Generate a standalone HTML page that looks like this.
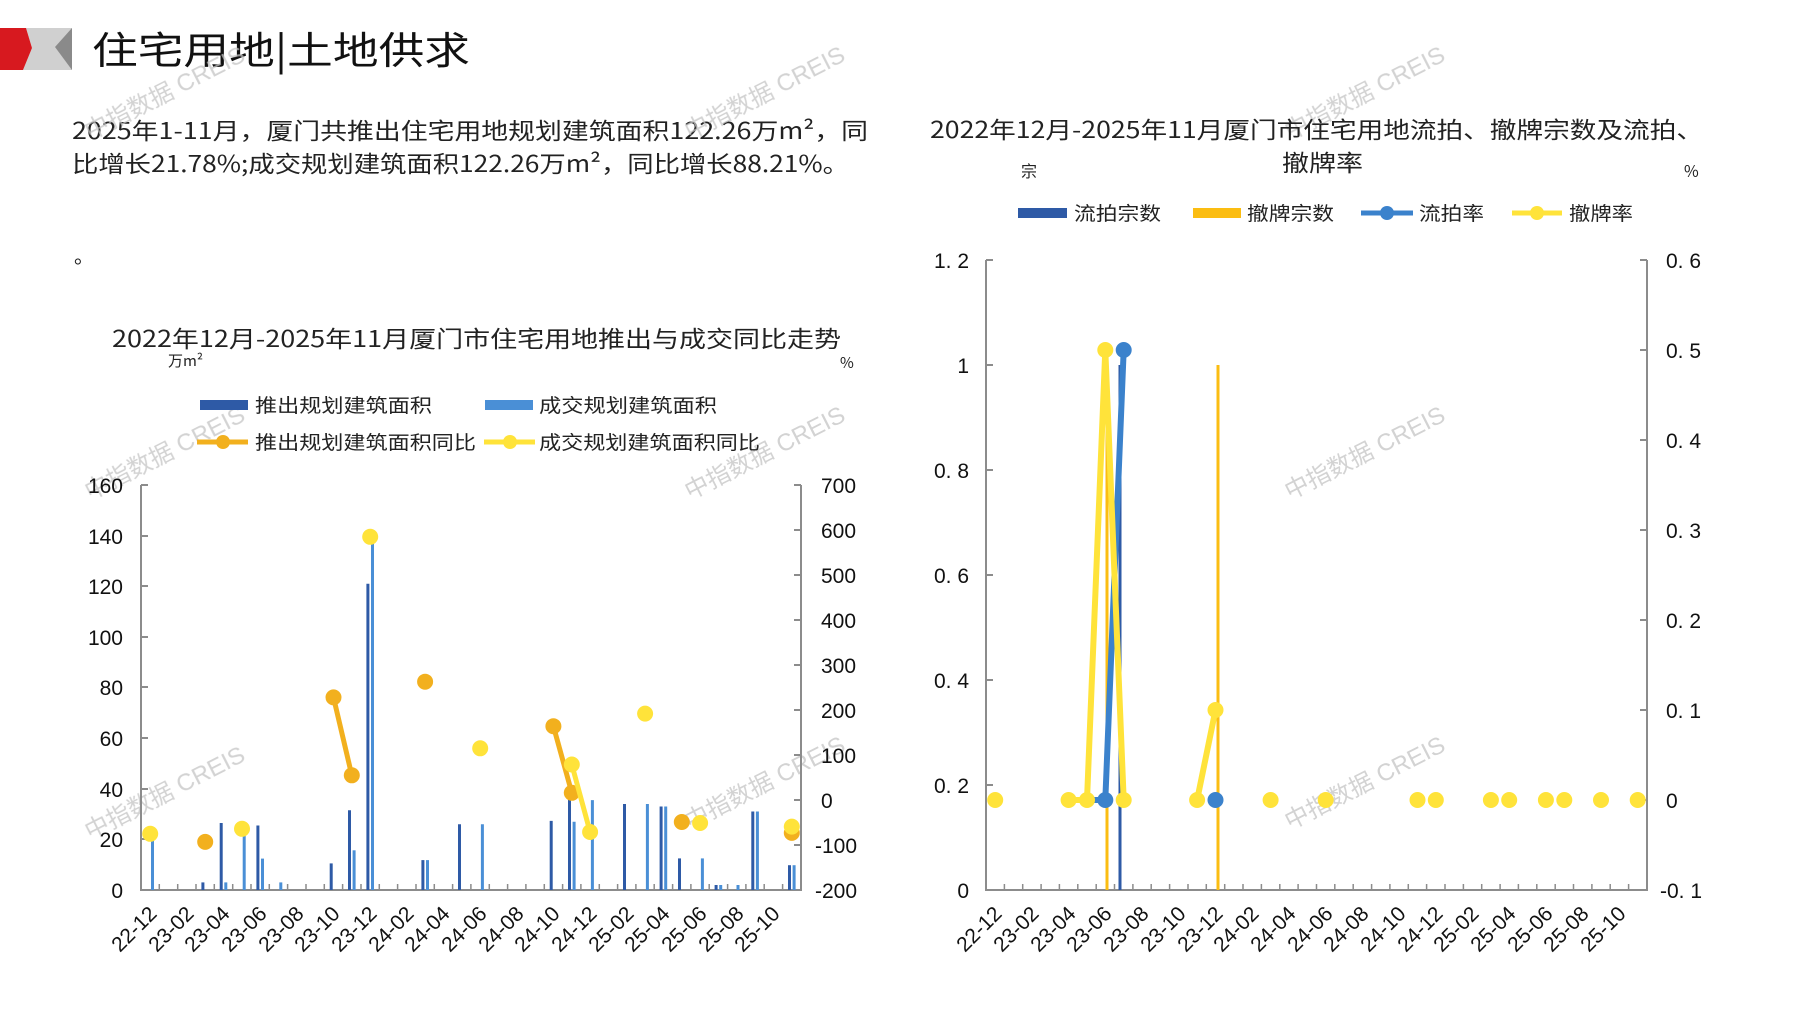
<!DOCTYPE html>
<html><head><meta charset="utf-8"><style>
html,body{margin:0;padding:0;background:#fff;}
svg{display:block;}
text{font-family:"Liberation Sans","Noto Sans CJK SC",sans-serif;}
.cj{font-family:"Noto Sans CJK SC",sans-serif;}
.tk{font-size:21px;fill:#111;}
.wm{font-family:"Liberation Sans","Noto Sans CJK SC",sans-serif;font-size:24px;fill:#c4c4c4;opacity:.75;}
</style></head><body>
<svg width="1797" height="1010" viewBox="0 0 1797 1010" xmlns="http://www.w3.org/2000/svg">
<polygon points="26,28 72,28 72,70 23,70 32,48" fill="#d0d0d0"/>
<polygon points="55,47 72,28 72,70" fill="#8a8a8a"/>
<polygon points="0,28 26,28 32,48 23,70 0,70" fill="#d7191f"/>
<text x="92" y="64" class="cj" font-size="38" textLength="378" lengthAdjust="spacingAndGlyphs" fill="#111">住宅用地|土地供求</text>

<text x="72" y="139" class="cj" font-size="23" textLength="796" lengthAdjust="spacingAndGlyphs" fill="#222">2025年1-11月，厦门共推出住宅用地规划建筑面积122.26万m²，同</text>
<text x="72" y="172" class="cj" font-size="23" textLength="777" lengthAdjust="spacingAndGlyphs" fill="#222">比增长21.78%;成交规划建筑面积122.26万m²，同比增长88.21%。</text>
<text x="74" y="263" class="cj" font-size="20" fill="#222">。</text>

<g class="wm">
<text transform="translate(90,140) rotate(-27)">中指数据 CREIS</text>
<text transform="translate(690,140) rotate(-27)">中指数据 CREIS</text>
<text transform="translate(1290,140) rotate(-27)">中指数据 CREIS</text>
<text transform="translate(90,500) rotate(-27)">中指数据 CREIS</text>
<text transform="translate(690,500) rotate(-27)">中指数据 CREIS</text>
<text transform="translate(1290,500) rotate(-27)">中指数据 CREIS</text>
<text transform="translate(90,840) rotate(-27)">中指数据 CREIS</text>
<text transform="translate(690,830) rotate(-27)">中指数据 CREIS</text>
<text transform="translate(1290,830) rotate(-27)">中指数据 CREIS</text>
</g>

<text x="112" y="347" class="cj" font-size="23" textLength="729" lengthAdjust="spacingAndGlyphs" fill="#222">2022年12月-2025年11月厦门市住宅用地推出与成交同比走势</text>
<text x="168" y="366" class="cj" font-size="15" fill="#222">万m²</text>
<text x="840" y="368" class="cj" font-size="15" fill="#222">%</text>
<rect x="200" y="400" width="48" height="10" fill="#2e5aa6"/>
<text x="255" y="412" class="cj" font-size="19" textLength="177" lengthAdjust="spacingAndGlyphs" fill="#222">推出规划建筑面积</text>
<rect x="485" y="400" width="48" height="10" fill="#4a8fd6"/>
<text x="539" y="412" class="cj" font-size="19" textLength="178" lengthAdjust="spacingAndGlyphs" fill="#222">成交规划建筑面积</text>
<line x1="197" y1="442" x2="248" y2="442" stroke="#f2b01e" stroke-width="5"/><circle cx="223" cy="442" r="7" fill="#f2b01e"/>
<text x="255" y="449" class="cj" font-size="19" textLength="221" lengthAdjust="spacingAndGlyphs" fill="#222">推出规划建筑面积同比</text>
<line x1="484" y1="442" x2="535" y2="442" stroke="#ffe33a" stroke-width="5"/><circle cx="510" cy="442" r="7" fill="#ffe33a"/>
<text x="539" y="449" class="cj" font-size="19" textLength="221" lengthAdjust="spacingAndGlyphs" fill="#222">成交规划建筑面积同比</text>

<g stroke="#8c8c8c" stroke-width="2" fill="none">
<line x1="141" y1="485" x2="141" y2="891"/>
<line x1="801" y1="485" x2="801" y2="891"/>
<line x1="140" y1="890" x2="802" y2="890"/>
<path d="M141 485h7M141 536h7M141 586h7M141 637h7M141 687h7M141 738h7M141 789h7M141 839h7"/>
<path d="M801 485h-7M801 530h-7M801 575h-7M801 620h-7M801 665h-7M801 710h-7M801 755h-7M801 800h-7M801 845h-7"/>
<path d="M159.3 890v-6M177.7 890v-6M196 890v-6M214.3 890v-6M232.7 890v-6M251 890v-6M269.3 890v-6M287.6 890v-6M306 890v-6M324.3 890v-6M342.6 890v-6M361 890v-6M379.3 890v-6M397.6 890v-6M416 890v-6M434.3 890v-6M452.6 890v-6M470.9 890v-6M489.3 890v-6M507.6 890v-6M525.9 890v-6M544.3 890v-6M562.6 890v-6M580.9 890v-6M599.3 890v-6M617.6 890v-6M635.9 890v-6M654.2 890v-6M672.6 890v-6M690.9 890v-6M709.2 890v-6M727.6 890v-6M745.9 890v-6M764.2 890v-6M782.6 890v-6" stroke-width="1.5"/>
</g>
<g class="tk" text-anchor="end">
<text x="123" y="493">160</text><text x="123" y="544">140</text><text x="123" y="594">120</text><text x="123" y="645">100</text><text x="123" y="695">80</text><text x="123" y="746">60</text><text x="123" y="797">40</text><text x="123" y="847">20</text><text x="123" y="898">0</text>
</g>
<g class="tk">
<text x="821" y="493">700</text><text x="821" y="538">600</text><text x="821" y="583">500</text><text x="821" y="628">400</text><text x="821" y="673">300</text><text x="821" y="718">200</text><text x="821" y="763">100</text><text x="821" y="808">0</text><text x="815" y="853">-100</text><text x="815" y="898">-200</text>
</g>
<g stroke-width="3">
<g stroke="#2e5aa6">
<line x1="202.9" y1="890" x2="202.9" y2="882.4"/><line x1="221.2" y1="890" x2="221.2" y2="823"/><line x1="257.9" y1="890" x2="257.9" y2="825.5"/><line x1="331.2" y1="890" x2="331.2" y2="863.4"/><line x1="349.5" y1="890" x2="349.5" y2="810.3"/><line x1="367.9" y1="890" x2="367.9" y2="583.7"/><line x1="422.9" y1="890" x2="422.9" y2="860.1"/><line x1="459.5" y1="890" x2="459.5" y2="824.2"/><line x1="551.2" y1="890" x2="551.2" y2="820.9"/><line x1="569.5" y1="890" x2="569.5" y2="796.4"/><line x1="624.5" y1="890" x2="624.5" y2="804"/><line x1="661.1" y1="890" x2="661.1" y2="806.5"/><line x1="679.5" y1="890" x2="679.5" y2="858.4"/><line x1="716.1" y1="890" x2="716.1" y2="885"/><line x1="752.8" y1="890" x2="752.8" y2="811.5"/><line x1="789.5" y1="890" x2="789.5" y2="865.2"/>
</g>
<g stroke="#4a8fd6">
<line x1="152.5" y1="890" x2="152.5" y2="839.4"/><line x1="225.8" y1="890" x2="225.8" y2="882.4"/><line x1="244.2" y1="890" x2="244.2" y2="823"/><line x1="262.5" y1="890" x2="262.5" y2="858.6"/><line x1="280.8" y1="890" x2="280.8" y2="882.4"/><line x1="354.1" y1="890" x2="354.1" y2="850.3"/><line x1="372.5" y1="890" x2="372.5" y2="543.3"/><line x1="427.5" y1="890" x2="427.5" y2="860.1"/><line x1="482.4" y1="890" x2="482.4" y2="824.2"/><line x1="574.1" y1="890" x2="574.1" y2="821.7"/><line x1="592.4" y1="890" x2="592.4" y2="800.1"/><line x1="647.4" y1="890" x2="647.4" y2="804"/><line x1="665.7" y1="890" x2="665.7" y2="806.5"/><line x1="702.4" y1="890" x2="702.4" y2="858.4"/><line x1="720.7" y1="890" x2="720.7" y2="885"/><line x1="738" y1="890" x2="738" y2="885"/><line x1="757.4" y1="890" x2="757.4" y2="811.5"/><line x1="794.1" y1="890" x2="794.1" y2="865.2"/>
</g>
</g>
<g fill="#f2b01e">
<polyline points="333.5,697.4 351.8,775.3" stroke="#f2b01e" stroke-width="5" fill="none"/>
<polyline points="553.4,726.2 571.8,792.8" stroke="#f2b01e" stroke-width="5" fill="none"/>
<circle cx="205.2" cy="841.9" r="8"/><circle cx="333.5" cy="697.4" r="8"/><circle cx="351.8" cy="775.3" r="8"/><circle cx="425.1" cy="681.7" r="8"/><circle cx="553.4" cy="726.2" r="8"/><circle cx="571.8" cy="792.8" r="8"/><circle cx="681.8" cy="822" r="8"/><circle cx="791.8" cy="832.9" r="8"/>
</g>
<g fill="#ffe33a">
<polyline points="571.8,764.5 590.1,832" stroke="#ffe33a" stroke-width="5" fill="none"/>
<circle cx="150.2" cy="833.8" r="8"/><circle cx="242" cy="828.8" r="8"/><circle cx="370.2" cy="536.8" r="8"/><circle cx="480.2" cy="748.3" r="8"/><circle cx="571.8" cy="764.5" r="8"/><circle cx="590.1" cy="832" r="8"/><circle cx="645.1" cy="713.6" r="8"/><circle cx="700.1" cy="823" r="8"/><circle cx="791.8" cy="826.6" r="8"/>
</g>
<g class="tk" text-anchor="end">
<text transform="translate(158,915) rotate(-45)">22-12</text>
<text transform="translate(195,915) rotate(-45)">23-02</text>
<text transform="translate(231,915) rotate(-45)">23-04</text>
<text transform="translate(268,915) rotate(-45)">23-06</text>
<text transform="translate(305,915) rotate(-45)">23-08</text>
<text transform="translate(341,915) rotate(-45)">23-10</text>
<text transform="translate(378,915) rotate(-45)">23-12</text>
<text transform="translate(415,915) rotate(-45)">24-02</text>
<text transform="translate(451,915) rotate(-45)">24-04</text>
<text transform="translate(488,915) rotate(-45)">24-06</text>
<text transform="translate(525,915) rotate(-45)">24-08</text>
<text transform="translate(561,915) rotate(-45)">24-10</text>
<text transform="translate(598,915) rotate(-45)">24-12</text>
<text transform="translate(635,915) rotate(-45)">25-02</text>
<text transform="translate(671,915) rotate(-45)">25-04</text>
<text transform="translate(708,915) rotate(-45)">25-06</text>
<text transform="translate(745,915) rotate(-45)">25-08</text>
<text transform="translate(781,915) rotate(-45)">25-10</text>
</g>

<text x="930" y="138" class="cj" font-size="23" textLength="773" lengthAdjust="spacingAndGlyphs" fill="#222">2022年12月-2025年11月厦门市住宅用地流拍、撤牌宗数及流拍、</text>
<text x="1282" y="171" class="cj" font-size="23" textLength="81" lengthAdjust="spacingAndGlyphs" fill="#222">撤牌率</text>
<text x="1021" y="177" class="cj" font-size="16" fill="#222">宗</text>
<text x="1684" y="177" class="cj" font-size="16" fill="#222">%</text>
<rect x="1018" y="208" width="49" height="10" fill="#2e5aa6"/>
<text x="1074" y="220" class="cj" font-size="19" textLength="87" lengthAdjust="spacingAndGlyphs" fill="#222">流拍宗数</text>
<rect x="1193" y="208" width="48" height="10" fill="#fbbd12"/>
<text x="1247" y="220" class="cj" font-size="19" textLength="87" lengthAdjust="spacingAndGlyphs" fill="#222">撤牌宗数</text>
<line x1="1361" y1="213" x2="1413" y2="213" stroke="#3b82cc" stroke-width="5"/><circle cx="1387" cy="213" r="7" fill="#3b82cc"/>
<text x="1419" y="220" class="cj" font-size="19" textLength="65" lengthAdjust="spacingAndGlyphs" fill="#222">流拍率</text>
<line x1="1512" y1="213" x2="1562" y2="213" stroke="#ffe33a" stroke-width="5"/><circle cx="1537" cy="213" r="7" fill="#ffe33a"/>
<text x="1569" y="220" class="cj" font-size="19" textLength="64" lengthAdjust="spacingAndGlyphs" fill="#222">撤牌率</text>

<g stroke="#8c8c8c" stroke-width="2" fill="none">
<line x1="986" y1="260" x2="986" y2="891"/>
<line x1="1647" y1="260" x2="1647" y2="891"/>
<line x1="985" y1="890" x2="1648" y2="890"/>
<path d="M986 260h7M986 365h7M986 470h7M986 575h7M986 680h7M986 785h7"/>
<path d="M1647 260h-7M1647 350h-7M1647 440h-7M1647 530h-7M1647 620h-7M1647 710h-7M1647 800h-7"/>
<path d="M1004.4 890v-6M1022.7 890v-6M1041.1 890v-6M1059.4 890v-6M1077.8 890v-6M1096.2 890v-6M1114.5 890v-6M1132.9 890v-6M1151.2 890v-6M1169.6 890v-6M1188 890v-6M1206.3 890v-6M1224.7 890v-6M1243 890v-6M1261.4 890v-6M1279.8 890v-6M1298.1 890v-6M1316.5 890v-6M1334.8 890v-6M1353.2 890v-6M1371.6 890v-6M1389.9 890v-6M1408.3 890v-6M1426.6 890v-6M1445 890v-6M1463.4 890v-6M1481.7 890v-6M1500.1 890v-6M1518.4 890v-6M1536.8 890v-6M1555.2 890v-6M1573.5 890v-6M1591.9 890v-6M1610.2 890v-6M1628.6 890v-6" stroke-width="1.5"/>
</g>
<g class="tk" text-anchor="end">
<text x="969" y="268">1. 2</text><text x="969" y="373">1</text><text x="969" y="478">0. 8</text><text x="969" y="583">0. 6</text><text x="969" y="688">0. 4</text><text x="969" y="793">0. 2</text><text x="969" y="898">0</text>
</g>
<g class="tk">
<text x="1666" y="268">0. 6</text><text x="1666" y="358">0. 5</text><text x="1666" y="448">0. 4</text><text x="1666" y="538">0. 3</text><text x="1666" y="628">0. 2</text><text x="1666" y="718">0. 1</text><text x="1666" y="808">0</text><text x="1660" y="898">-0. 1</text>
</g>
<line x1="1120" y1="890" x2="1120" y2="365" stroke="#2e5aa6" stroke-width="3"/>
<line x1="1107" y1="890" x2="1107" y2="365" stroke="#fbbd12" stroke-width="3"/>
<line x1="1218" y1="890" x2="1218" y2="365" stroke="#fbbd12" stroke-width="3"/>
<polyline points="1087,800 1105.3,800 1123.7,350" stroke="#3b82cc" stroke-width="6" fill="none"/>
<polyline points="1068.6,800 1087,800 1105.3,350 1123.7,800" stroke="#ffe33a" stroke-width="6" fill="none"/>
<polyline points="1197.1,800 1215.5,710" stroke="#ffe33a" stroke-width="6" fill="none"/>
<g fill="#3b82cc">
<circle cx="1105.3" cy="800" r="8"/><circle cx="1123.7" cy="350" r="8"/><circle cx="1215.5" cy="800" r="8"/>
</g>
<g fill="#ffe33a">
<circle cx="995.2" cy="800" r="8"/><circle cx="1068.6" cy="800" r="8"/><circle cx="1087" cy="800" r="8"/><circle cx="1105.3" cy="350" r="8"/><circle cx="1123.7" cy="800" r="8"/><circle cx="1197.1" cy="800" r="8"/><circle cx="1215.5" cy="710" r="8"/><circle cx="1270.6" cy="800" r="8"/><circle cx="1325.7" cy="800" r="8"/><circle cx="1417.5" cy="800" r="8"/><circle cx="1435.8" cy="800" r="8"/><circle cx="1490.9" cy="800" r="8"/><circle cx="1509.2" cy="800" r="8"/><circle cx="1545.9" cy="800" r="8"/><circle cx="1564.3" cy="800" r="8"/><circle cx="1601" cy="800" r="8"/><circle cx="1637.7" cy="800" r="8"/>
</g>
<g class="tk" text-anchor="end">
<text transform="translate(1003,915) rotate(-45)">22-12</text>
<text transform="translate(1040,915) rotate(-45)">23-02</text>
<text transform="translate(1077,915) rotate(-45)">23-04</text>
<text transform="translate(1113,915) rotate(-45)">23-06</text>
<text transform="translate(1150,915) rotate(-45)">23-08</text>
<text transform="translate(1187,915) rotate(-45)">23-10</text>
<text transform="translate(1224,915) rotate(-45)">23-12</text>
<text transform="translate(1260,915) rotate(-45)">24-02</text>
<text transform="translate(1297,915) rotate(-45)">24-04</text>
<text transform="translate(1334,915) rotate(-45)">24-06</text>
<text transform="translate(1370,915) rotate(-45)">24-08</text>
<text transform="translate(1407,915) rotate(-45)">24-10</text>
<text transform="translate(1444,915) rotate(-45)">24-12</text>
<text transform="translate(1480,915) rotate(-45)">25-02</text>
<text transform="translate(1517,915) rotate(-45)">25-04</text>
<text transform="translate(1554,915) rotate(-45)">25-06</text>
<text transform="translate(1590,915) rotate(-45)">25-08</text>
<text transform="translate(1627,915) rotate(-45)">25-10</text>
</g>
</svg>
</body></html>
